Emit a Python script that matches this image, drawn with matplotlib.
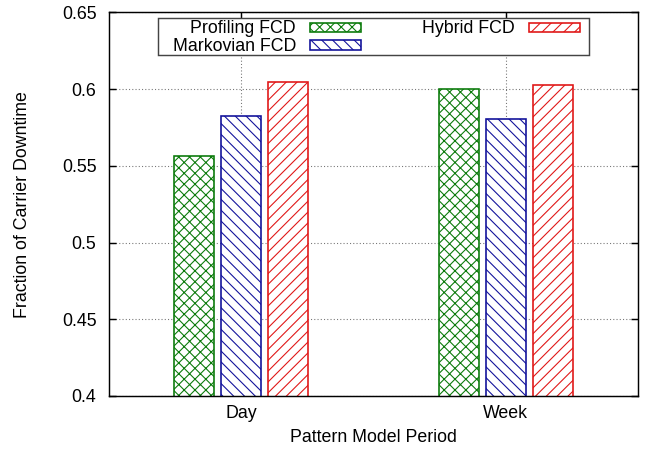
import numpy as np
import matplotlib
matplotlib.use('Agg')
import matplotlib.pyplot as plt
from matplotlib.patches import Rectangle

plt.rcParams['font.family'] = ['Liberation Sans', 'DejaVu Sans']
plt.rcParams['hatch.linewidth'] = 0.6

# data
periods = ['Day', 'Week']
series_names = ['Profiling FCD', 'Markovian FCD', 'Hybrid FCD']
profiling = [0.5566, 0.6000]
markovian = [0.5822, 0.5807]
hybrid = [0.6044, 0.6026]
yticks = [0.4, 0.45, 0.5, 0.55, 0.6, 0.65]
ytick_labels = ['0.4', '0.45', '0.5', '0.55', '0.6', '0.65']

colors = ['#0a7a0a', '#10109a', '#e01515']
hatches = ['xxxx', '\\\\\\\\', '////']
fs = 9.8

fig = plt.figure(figsize=(649 / 130, 454 / 130), dpi=130)
ax = fig.add_axes([0.168, 0.1278, 0.815, 0.8451])

x = np.arange(len(periods))
width = 0.152
step = 0.178
for i, (vals, name) in enumerate(zip([profiling, markovian, hybrid], series_names)):
    ax.bar(x + (i - 1) * step, vals, width, bottom=0, label=name,
           facecolor='white', edgecolor=colors[i], hatch=hatches[i],
           linewidth=0.9, zorder=3)

ax.set_xlim(-0.5, 1.5)
ax.set_ylim(0.4, 0.65)
ax.set_xticks(x)
ax.set_xticklabels(periods)
ax.set_yticks(yticks)
ax.set_yticklabels(ytick_labels)
ax.tick_params(direction='in', length=4, width=0.8, labelsize=fs,
               top=True, right=True, pad=7)
ax.tick_params(axis='x', pad=5)
ax.grid(True, linestyle=(0, (1, 2)), color='#777777', linewidth=0.6, zorder=0)
for s in ax.spines.values():
    s.set_linewidth(0.8)
    s.set_zorder(5)

ax.set_xlabel('Pattern Model Period', fontsize=fs, labelpad=4)
ax.set_ylabel('Fraction of Carrier Downtime', fontsize=fs, labelpad=17)

# key box drawn separately so its padding can be uneven, like gnuplot's
key_box = Rectangle((0.092, 0.889), 0.816, 0.097, transform=ax.transAxes,
                    facecolor='white', edgecolor='#444444', linewidth=0.8,
                    zorder=6)
ax.add_patch(key_box)

leg = ax.legend(loc='upper center', bbox_to_anchor=(0.505, 0.988), ncol=2,
                markerfirst=False, fontsize=fs, frameon=False,
                handlelength=2.88, handleheight=0.42, handletextpad=0.79,
                columnspacing=3.45, labelspacing=0.05, borderpad=0.2,
                borderaxespad=0)
leg.set_zorder(7)

fig.savefig('out.png', dpi=130)
